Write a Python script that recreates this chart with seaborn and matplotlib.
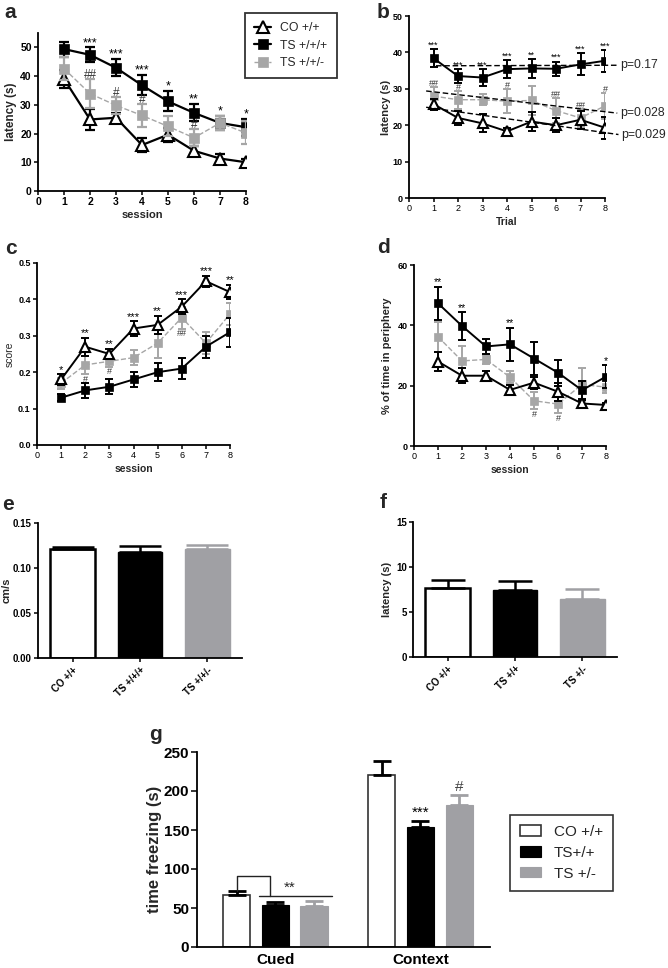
import numpy as np
import pandas as pd
import matplotlib
matplotlib.use("Agg")
import matplotlib.pyplot as plt
import seaborn as sns

sns.set_theme(style="ticks")
plt.rcParams['font.family'] = ['Liberation Sans', 'DejaVu Sans']

W, H = 668, 968

# ---------------- data ----------------
sessions = [1, 2, 3, 4, 5, 6, 7, 8]
line_groups = ["CO +/+", "TS +/+/+", "TS +/+/-"]

# panel a
a_co = [39, 24.9, 25.5, 16, 19.6, 14, 11.3, 10]
a_co_err = [3, 3.5, 1.5, 2.5, 2.5, 1.5, 1.5, 1]
a_ts = [49.4, 47.4, 42.9, 36.8, 31.2, 27.2, 23.7, 22.2]
a_ts_err = [2.6, 2.6, 3, 3.5, 3.5, 3, 2.5, 3]
a_het = [42.6, 33.9, 29.8, 26.3, 22.5, 18.5, 23.7, 20.2]
a_het_err = [4, 5, 3, 4, 3.5, 3, 2.5, 4]
a_stars = ["", "***", "***", "***", "*", "**", "*", "*"]
a_hash = ["", "##", "#", "#", "", "#", "", ""]

# panel b
b_co = [25.8, 22, 20.5, 18.3, 21, 20, 21.5, 19.3]
b_co_err = [1.5, 2, 2.5, 1, 2.5, 2, 2.5, 3]
b_ts = [38.4, 33.5, 33.1, 35.4, 35.6, 35.5, 36.7, 37.7]
b_ts_err = [2.4, 2, 2.3, 2.5, 2.5, 2, 3, 3]
b_het = [28, 27, 27, 26.6, 26.8, 24, 22, 25.3]
b_het_err = [2.5, 2.5, 1.5, 3.3, 4, 3.5, 2.5, 3.5]
b_stars = ["***", "***", "***", "***", "**", "***", "***", "***"]
b_hash = ["##", "#", "", "#", "", "##", "##", "#"]
b_trend_intercept = [25.6, 36.3, 29.95]   # CO, TS, het
b_trend_slope = [-0.955, 0.02, -0.78]
b_trend_start = [0.7, 1.1, 0.7]
b_trend_end = [8.55, 8.5, 8.5]
b_pvals = ["p=0.029", "p=0.17", "p=0.028"]

# panel c
c_co = [0.18, 0.27, 0.25, 0.32, 0.33, 0.38, 0.45, 0.42]
c_co_err = [0.015, 0.025, 0.015, 0.02, 0.025, 0.02, 0.015, 0.02]
c_ts = [0.13, 0.15, 0.16, 0.18, 0.20, 0.21, 0.27, 0.31]
c_ts_err = [0.01, 0.02, 0.02, 0.02, 0.025, 0.028, 0.03, 0.04]
c_het = [0.17, 0.22, 0.23, 0.24, 0.28, 0.35, 0.28, 0.36]
c_het_err = [0.015, 0.025, 0.015, 0.02, 0.04, 0.03, 0.03, 0.03]
c_stars = ["*", "**", "**", "***", "**", "***", "***", "**"]
c_hash = ["", "#", "#", "", "", "##", "", ""]

# panel d
d_co = [28, 23.3, 23.3, 18.6, 21, 18, 14.1, 13.6]
d_co_err = [3, 2.5, 1.5, 1.5, 2, 3, 1, 0.5]
d_ts = [47.3, 39.8, 33, 33.7, 29, 24.3, 18.5, 23]
d_ts_err = [5.5, 4.5, 2.5, 5.5, 5.5, 4.3, 3, 3.8]
d_het = [36.2, 28.2, 28.7, 22.8, 15, 13.9, 20.4, 19.5]
d_het_err = [5, 5, 1.5, 2, 2.8, 3, 5.5, 2]
d_stars = ["**", "**", "", "**", "", "", "", "*"]
d_hash = ["", "", "", "", "#", "#", "", ""]

# panel e
e_labels = ["CO +/+", "TS +/+/+", "TS +/+/-"]
e_vals = [0.121, 0.118, 0.121]
e_err = [0.002, 0.007, 0.005]

# panel f
f_labels = ["CO +/+", "TS +/+", "TS +/-"]
f_vals = [7.7, 7.45, 6.5]
f_err = [0.9, 1.0, 1.05]

# panel g
g_conditions = ["Cued", "Context"]
g_groups = ["CO +/+", "TS+/+", "TS +/-"]
g_co = [66.5, 220.4]
g_co_err = [5, 18.6]
g_ts = [53.6, 154]
g_ts_err = [4.4, 7]
g_het = [52.7, 182]
g_het_err = [6, 13]
g_context_sig = ["", "***", "#"]

# ---------------- style ----------------
BLACK = "#000000"
GREY = "#a6a6a6"
BARGREY = "#a0a0a4"

fig = plt.figure(figsize=(W / 100, H / 100), dpi=100)


def add_ax(l, t, r, b):
    return fig.add_axes([l / W, 1 - b / H, (r - l) / W, (b - t) / H])


def style_ax(ax, xbold=False, ybold=True, fs=7):
    sns.despine(ax=ax)
    for s in ("left", "bottom"):
        ax.spines[s].set_linewidth(1.3)
        ax.spines[s].set_color("black")
    ax.tick_params(direction="out", length=3, width=1.1, colors="black",
                   labelsize=fs, pad=1.5)
    for t in ax.get_xticklabels():
        t.set_fontweight("bold" if xbold else "normal")
    for t in ax.get_yticklabels():
        t.set_fontweight("bold" if ybold else "normal")


def line_panel(ax, co, co_e, ts, ts_e, het, het_e, tri, sq, cap, lw,
               het_last=False):
    order = [("co", co, co_e), ("ts", ts, ts_e), ("het", het, het_e)]
    if not het_last:
        order = [order[2], order[0], order[1]]
    z = 2
    for key, vals, errs in order:
        if key == "het":
            color, ls, lwid = GREY, "--", 1.0
            mk = dict(marker="s", markersize=sq, markerfacecolor=GREY,
                      markeredgecolor=GREY, markeredgewidth=0.5)
            lab = line_groups[2]
        elif key == "ts":
            color, ls, lwid = BLACK, "-", lw
            mk = dict(marker="s", markersize=sq, markerfacecolor=BLACK,
                      markeredgecolor=BLACK, markeredgewidth=0.5)
            lab = line_groups[1]
        else:
            color, ls, lwid = BLACK, "-", lw
            mk = dict(marker="^", markersize=tri, markerfacecolor="white",
                      markeredgecolor=BLACK, markeredgewidth=1.5)
            lab = line_groups[0]
        ax.errorbar(sessions, vals, yerr=errs, fmt="none", ecolor=color,
                    elinewidth=lw, capsize=cap, capthick=lw, zorder=z)
        sns.lineplot(x=sessions, y=vals, ax=ax, color=color, linestyle=ls,
                     linewidth=lwid, label=lab, legend=False, zorder=z + 0.5,
                     **mk)
        z += 1


def annotate(ax, stars, hashes, co, co_e, ts, ts_e, het, het_e, hash_side,
             fs=7, hfs=7):
    for i, x in enumerate(sessions):
        top = max(co[i] + co_e[i], ts[i] + ts_e[i], het[i] + het_e[i])
        if stars[i]:
            ax.annotate(stars[i], (x, top), xytext=(0, 1.0),
                        textcoords="offset points", ha="center",
                        va="baseline", fontsize=fs, color="black",
                        annotation_clip=False)
        if hashes[i]:
            if hash_side == "above":
                ax.annotate(hashes[i], (x, het[i] + het_e[i]), xytext=(0, 0.8),
                            textcoords="offset points", ha="center",
                            va="baseline", fontsize=hfs, color="#333333")
            else:
                ax.annotate(hashes[i], (x, het[i] - het_e[i]), xytext=(0, -0.5),
                            textcoords="offset points", ha="center",
                            va="top", fontsize=hfs, color="#333333")


# ---------------- panel a ----------------
ax = add_ax(38, 33, 246, 191)
line_panel(ax, a_co, a_co_err, a_ts, a_ts_err, a_het, a_het_err,
           tri=9, sq=7.5, cap=3.8, lw=1.6, het_last=True)
ax.set_xlim(0, 8)
ax.set_ylim(0, 55)
ax.set_xticks(range(0, 9))
ax.set_yticks(range(0, 51, 10))
style_ax(ax, xbold=True, ybold=True, fs=7.5)
ax.set_xlabel("session", fontsize=8, fontweight="bold", labelpad=2)
ax.set_ylabel("latency (s)", fontsize=8.5, fontweight="bold", labelpad=2)
annotate(ax, a_stars, a_hash, a_co, a_co_err, a_ts, a_ts_err, a_het,
         a_het_err, "above", fs=9, hfs=8.5)
handles, labels = ax.get_legend_handles_labels()
order = [labels.index(g) for g in line_groups]
leg = ax.legend([handles[i] for i in order], [labels[i] for i in order],
                loc="upper left", bbox_to_anchor=(245 / W, 1 - 13 / H),
                bbox_transform=fig.transFigure, borderaxespad=0,
                frameon=True, fancybox=False, edgecolor="black",
                fontsize=8.8, handlelength=1.4, borderpad=0.75,
                labelspacing=0.45, handletextpad=0.75)
leg.get_frame().set_linewidth(1.3)

# ---------------- panel b ----------------
ax = add_ax(409, 16, 605, 198)
line_panel(ax, b_co, b_co_err, b_ts, b_ts_err, b_het, b_het_err,
           tri=7.5, sq=5.5, cap=3.2, lw=1.4)
for k in range(3):
    xs = np.array([b_trend_start[k], b_trend_end[k]])
    ys = b_trend_intercept[k] + b_trend_slope[k] * xs
    ax.plot(xs, ys, color="black", linestyle=(0, (4, 2)), linewidth=1.0,
            clip_on=False, zorder=6)
    ax.text(b_trend_end[k] + 0.12, ys[1], b_pvals[k], fontsize=8.8,
            va="center", ha="left", clip_on=False)
ax.set_xlim(0, 8)
ax.set_ylim(0, 50)
ax.set_xticks(range(0, 9))
ax.set_yticks(range(0, 51, 10))
style_ax(ax, xbold=False, ybold=True, fs=6.5)
ax.set_xlabel("Trial", fontsize=7.5, fontweight="bold", labelpad=3)
ax.set_ylabel("latency (s)", fontsize=8, fontweight="bold", labelpad=1.5)
annotate(ax, b_stars, b_hash, b_co, b_co_err, b_ts, b_ts_err, b_het,
         b_het_err, "above", fs=6.5, hfs=6.5)

# ---------------- panel c ----------------
ax = add_ax(37, 263, 230, 445)
line_panel(ax, c_co, c_co_err, c_ts, c_ts_err, c_het, c_het_err,
           tri=7.5, sq=5.5, cap=3.2, lw=1.4)
ax.set_xlim(0, 8)
ax.set_ylim(0, 0.5)
ax.set_xticks(range(0, 9))
ax.set_yticks(np.arange(0, 0.51, 0.1))
ax.set_yticklabels([f"{v:.1f}" for v in np.arange(0, 0.51, 0.1)])
style_ax(ax, xbold=False, ybold=True, fs=6.5)
ax.set_xlabel("session", fontsize=7.5, fontweight="bold", labelpad=3)
ax.set_ylabel("score", fontsize=7.5, labelpad=2.5)
annotate(ax, c_stars, c_hash, c_co, c_co_err, c_ts, c_ts_err, c_het,
         c_het_err, "below", fs=8, hfs=6.5)

# ---------------- panel d ----------------
ax = add_ax(414, 265, 606, 446)
line_panel(ax, d_co, d_co_err, d_ts, d_ts_err, d_het, d_het_err,
           tri=7.5, sq=5.5, cap=3.2, lw=1.4)
ax.set_xlim(0, 8)
ax.set_ylim(0, 60)
ax.set_xticks(range(0, 9))
ax.set_yticks([0, 20, 40, 60])
style_ax(ax, xbold=False, ybold=True, fs=6.5)
ax.set_xlabel("session", fontsize=7.5, fontweight="bold", labelpad=3)
ax.set_ylabel("% of time in periphery", fontsize=8, fontweight="bold",
              labelpad=4)
annotate(ax, d_stars, d_hash, d_co, d_co_err, d_ts, d_ts_err, d_het,
         d_het_err, "below", fs=7.5, hfs=6.5)


# ---------------- bar panels e, f ----------------
def bar_panel(ax, labels, vals, errs, capsize):
    sns.barplot(x=labels, y=vals, hue=labels,
                palette=["white", BLACK, BARGREY], saturation=1,
                width=0.67, legend=False, ax=ax, errorbar=None)
    edge = [BLACK, BLACK, BARGREY]
    ecol = [BLACK, BLACK, BARGREY]
    bars = list(ax.patches)
    for i, p in enumerate(bars):
        p.set_edgecolor(edge[i])
        p.set_linewidth(1.8 if i == 0 else 1.0)
        cx = p.get_x() + p.get_width() / 2
        ax.errorbar([cx], [vals[i]], yerr=[[0], [errs[i]]], fmt="none",
                    ecolor=ecol[i], elinewidth=1.8, capsize=capsize,
                    capthick=1.8, zorder=1)
    ax.set_xlim(-0.52, 2.52)
    ax.set_xticks(range(3))
    ax.set_xticklabels(labels, rotation=45, ha="right",
                       rotation_mode="anchor")


ax = add_ax(38, 523, 242, 658)
bar_panel(ax, e_labels, e_vals, e_err, capsize=15)
ax.set_ylim(0, 0.15)
ax.set_yticks([0, 0.05, 0.10, 0.15])
ax.set_yticklabels(["0.00", "0.05", "0.10", "0.15"])
style_ax(ax, xbold=True, ybold=True, fs=7)
ax.tick_params(axis="x", pad=2)
ax.set_ylabel("cm/s", fontsize=8, fontweight="bold", labelpad=1)

ax = add_ax(413, 522, 617, 657)
bar_panel(ax, f_labels, f_vals, f_err, capsize=12)
ax.set_ylim(0, 15)
ax.set_yticks([0, 5, 10, 15])
style_ax(ax, xbold=True, ybold=True, fs=7)
ax.tick_params(axis="x", pad=2)
ax.set_ylabel("latency (s)", fontsize=8, fontweight="bold", labelpad=3)

# ---------------- panel g ----------------
ax = add_ax(197, 752, 490, 947)
gdf = pd.DataFrame({
    "cond": g_conditions * 3,
    "group": [g for g in g_groups for _ in g_conditions],
    "val": g_co + g_ts + g_het,
})
sns.barplot(data=gdf, x="cond", y="val", hue="group", order=g_conditions,
            hue_order=g_groups, palette=["white", BLACK, BARGREY],
            saturation=1, width=0.8, gap=0.3, errorbar=None, legend=False,
            ax=ax)
bar_conts = list(ax.containers)
g_vals = [g_co, g_ts, g_het]
g_errs = [g_co_err, g_ts_err, g_het_err]
g_edges = ["#333333", BLACK, BARGREY]
g_ecol = [BLACK, BLACK, BARGREY]
centers = []
for k, cont in enumerate(bar_conts):
    xs = []
    for p in cont.patches:
        p.set_edgecolor(g_edges[k])
        p.set_linewidth(1.2 if k == 0 else 0.8)
        xs.append(p.get_x() + p.get_width() / 2)
    centers.append(xs)
    ax.errorbar(xs, g_vals[k], yerr=[[0, 0], g_errs[k]], fmt="none",
                ecolor=g_ecol[k], elinewidth=2, capsize=6.5, capthick=2,
                zorder=1)
# significance on Context
for k in range(1, 3):
    sym = g_context_sig[k]
    top = g_vals[k][1] + g_errs[k][1]
    ax.annotate(sym, (centers[k][1], top), xytext=(0, 3),
                textcoords="offset points", ha="center", va="baseline",
                fontsize=11, color="black" if k == 1 else "#444444")
# bracket on Cued
ts_patch = bar_conts[1].patches[0]
het_patch = bar_conts[2].patches[0]
co_top = g_co[0] + g_co_err[0]
grp_top = max(g_ts[0] + g_ts_err[0], g_het[0] + g_het_err[0])
br_top = co_top + 20
line_y = grp_top + 6.5
br_x = ts_patch.get_x() + 0.3 * ts_patch.get_width()
ax.plot([centers[0][0], centers[0][0], br_x, br_x],
        [co_top, br_top, br_top, line_y], color="#222222", lw=1.0)
x0 = ts_patch.get_x() - 0.02
x1 = het_patch.get_x() + het_patch.get_width() + 0.03
ax.plot([x0, x1], [line_y, line_y], color="#222222", lw=1.0)
ax.text((x0 + x1) / 2 - 0.04, line_y + 6, "**", ha="center", va="baseline",
        fontsize=11)
ax.set_xlim(-0.54, 1.48)
ax.set_ylim(0, 250)
ax.set_yticks(range(0, 251, 50))
style_ax(ax, xbold=True, ybold=True, fs=11)
ax.tick_params(axis="x", length=0, pad=4)
ax.tick_params(axis="y", length=4)
for t in ax.get_xticklabels():
    t.set_fontsize(11)
ax.set_xlabel("")
ax.set_ylabel("time freezing (s)", fontsize=12, fontweight="bold", labelpad=1)
gleg = ax.legend(bar_conts, g_groups, loc="upper left",
                 bbox_to_anchor=(510 / W, 1 - 815 / H),
                 bbox_transform=fig.transFigure, borderaxespad=0,
                 frameon=True, fancybox=False, edgecolor="black",
                 fontsize=11, handlelength=1.4, handleheight=0.65,
                 borderpad=0.65, labelspacing=0.45, handletextpad=0.8)
gleg.get_frame().set_linewidth(1.2)

# ---------------- panel letters ----------------
letters = [("a", 10, 13), ("b", 383, 13), ("c", 11, 248), ("d", 383, 247),
           ("e", 8, 504), ("f", 383, 503), ("g", 155, 735)]
for s, px, py in letters:
    fig.text(px / W, 1 - py / H, s, fontsize=15, fontweight="bold",
             ha="center", va="center")

fig.savefig("out.png", dpi=100, facecolor="white")
